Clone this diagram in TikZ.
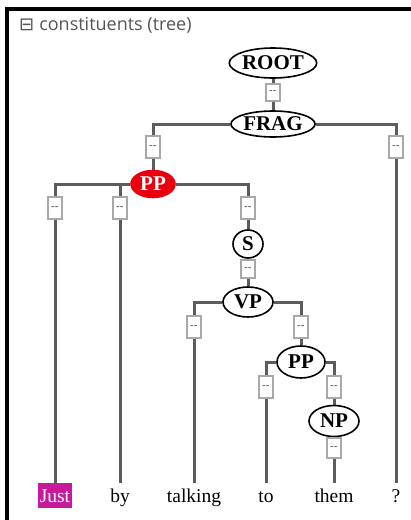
\documentclass[tikz,border=0pt]{standalone}
\usepackage{fontspec}
\setmainfont{Liberation Serif}
\newfontfamily\titlef{Open Sans}
\newfontfamily\symf{DejaVu Sans}
\usetikzlibrary{shapes.geometric,backgrounds}
\definecolor{edgegray}{HTML}{5C5C5C}
\definecolor{boxgray}{HTML}{A8A8A8}
\definecolor{titlegray}{HTML}{555555}
\definecolor{ppred}{HTML}{E8000E}
\definecolor{justmag}{HTML}{C8189C}
\tikzset{
  cat/.style={ellipse, draw=black, line width=1.6pt, fill=white, inner sep=0pt,
    font=\fontsize{21}{21}\selectfont\bfseries},
  lnk/.style={rectangle, draw=boxgray, line width=2pt, fill=white, inner sep=0pt,
    minimum width=14pt, minimum height=22pt, font=\fontsize{10}{10}\selectfont\bfseries\sffamily, text=black!85},
  edge/.style={draw=edgegray, line width=3pt},
  word/.style={anchor=north, inner xsep=2pt, inner ysep=3pt, text height=16pt, text depth=2.5pt,
    font=\fontsize{19.5}{19.5}\selectfont}
}
\begin{document}
\begin{tikzpicture}[x=1pt,y=-1pt]
\useasboundingbox (0,0) rectangle (411,520);
% frame
\draw[line width=4pt] (5,9) -- (411,9);
\draw[line width=4pt] (7,7) -- (7,520);
% title
\node[anchor=west, inner sep=0pt, text=titlegray, font=\fontsize{18}{18}\selectfont] (title) at (19,25)
  {{\symf ⊟}\hspace{5pt}{\titlef constituents (tree)}};
% category nodes
\node[cat, minimum width=80pt, minimum height=30pt] (root) at (273,63) {ROOT};
\node[lnk, minimum height=17pt] (b0) at (273,92) {-{}-};
\node[cat, minimum width=80pt, minimum height=26pt] (frag) at (273,124) {FRAG};
\node[lnk] (b1) at (153,147) {-{}-};
\node[lnk] (b2) at (396,147) {-{}-};
\node[cat, fill=ppred, draw=ppred, text=white, minimum width=44pt, minimum height=27pt] (pp1) at (153,184) {PP};
\node[lnk] (b3) at (55,208) {-{}-};
\node[lnk] (b4) at (120,208) {-{}-};
\node[lnk] (b5) at (248,208) {-{}-};
\node[cat, minimum width=30pt, minimum height=28pt] (s) at (248,244) {S};
\node[lnk, minimum height=18pt] (b6) at (248,269) {-{}-};
\node[cat, minimum width=50pt, minimum height=30pt] (vp) at (248,302) {VP};
\node[lnk] (b7) at (194,327) {-{}-};
\node[lnk] (b8) at (301,327) {-{}-};
\node[cat, minimum width=48pt, minimum height=32pt] (pp2) at (301,362) {PP};
\node[lnk] (b9) at (266,387) {-{}-};
\node[lnk] (b10) at (334,387) {-{}-};
\node[cat, minimum width=50pt, minimum height=31pt] (np) at (334,421) {NP};
\node[lnk, minimum height=20pt] (b11) at (334,448) {-{}-};
% words
\node[word, fill=justmag, text=white] (w1) at (55,483) {Just};
\node[word] (w2) at (120,483) {by};
\node[word] (w3) at (194,483) {talking};
\node[word] (w4) at (266,483) {to};
\node[word] (w5) at (334,483) {them};
\node[word] (w6) at (396,483) {?};
% edges
\begin{scope}[on background layer]
\draw[edge] (root) -- (b0) -- (frag);
\draw[edge] (frag.west) -| (b1.north);
\draw[edge] (frag.east) -| (b2.north);
\draw[edge] (b1) -- (pp1);
\draw[edge] (b2.south) -- (w6.north);
\draw[edge] (pp1.west) -| (b3.north);
\draw[edge] (pp1.west) -| (b4.north);
\draw[edge] (pp1.east) -| (b5.north);
\draw[edge] (b3.south) -- (w1.north);
\draw[edge] (b4.south) -- (w2.north);
\draw[edge] (b5) -- (s) -- (b6) -- (vp);
\draw[edge] (vp.west) -| (b7.north);
\draw[edge] (vp.east) -| (b8.north);
\draw[edge] (b7.south) -- (w3.north);
\draw[edge] (b8) -- (pp2);
\draw[edge] (pp2.west) -| (b9.north);
\draw[edge] (pp2.east) -| (b10.north);
\draw[edge] (b9.south) -- (w4.north);
\draw[edge] (b10) -- (np) -- (b11);
\draw[edge] (b11.south) -- (w5.north);
\end{scope}
\end{tikzpicture}
\end{document}
